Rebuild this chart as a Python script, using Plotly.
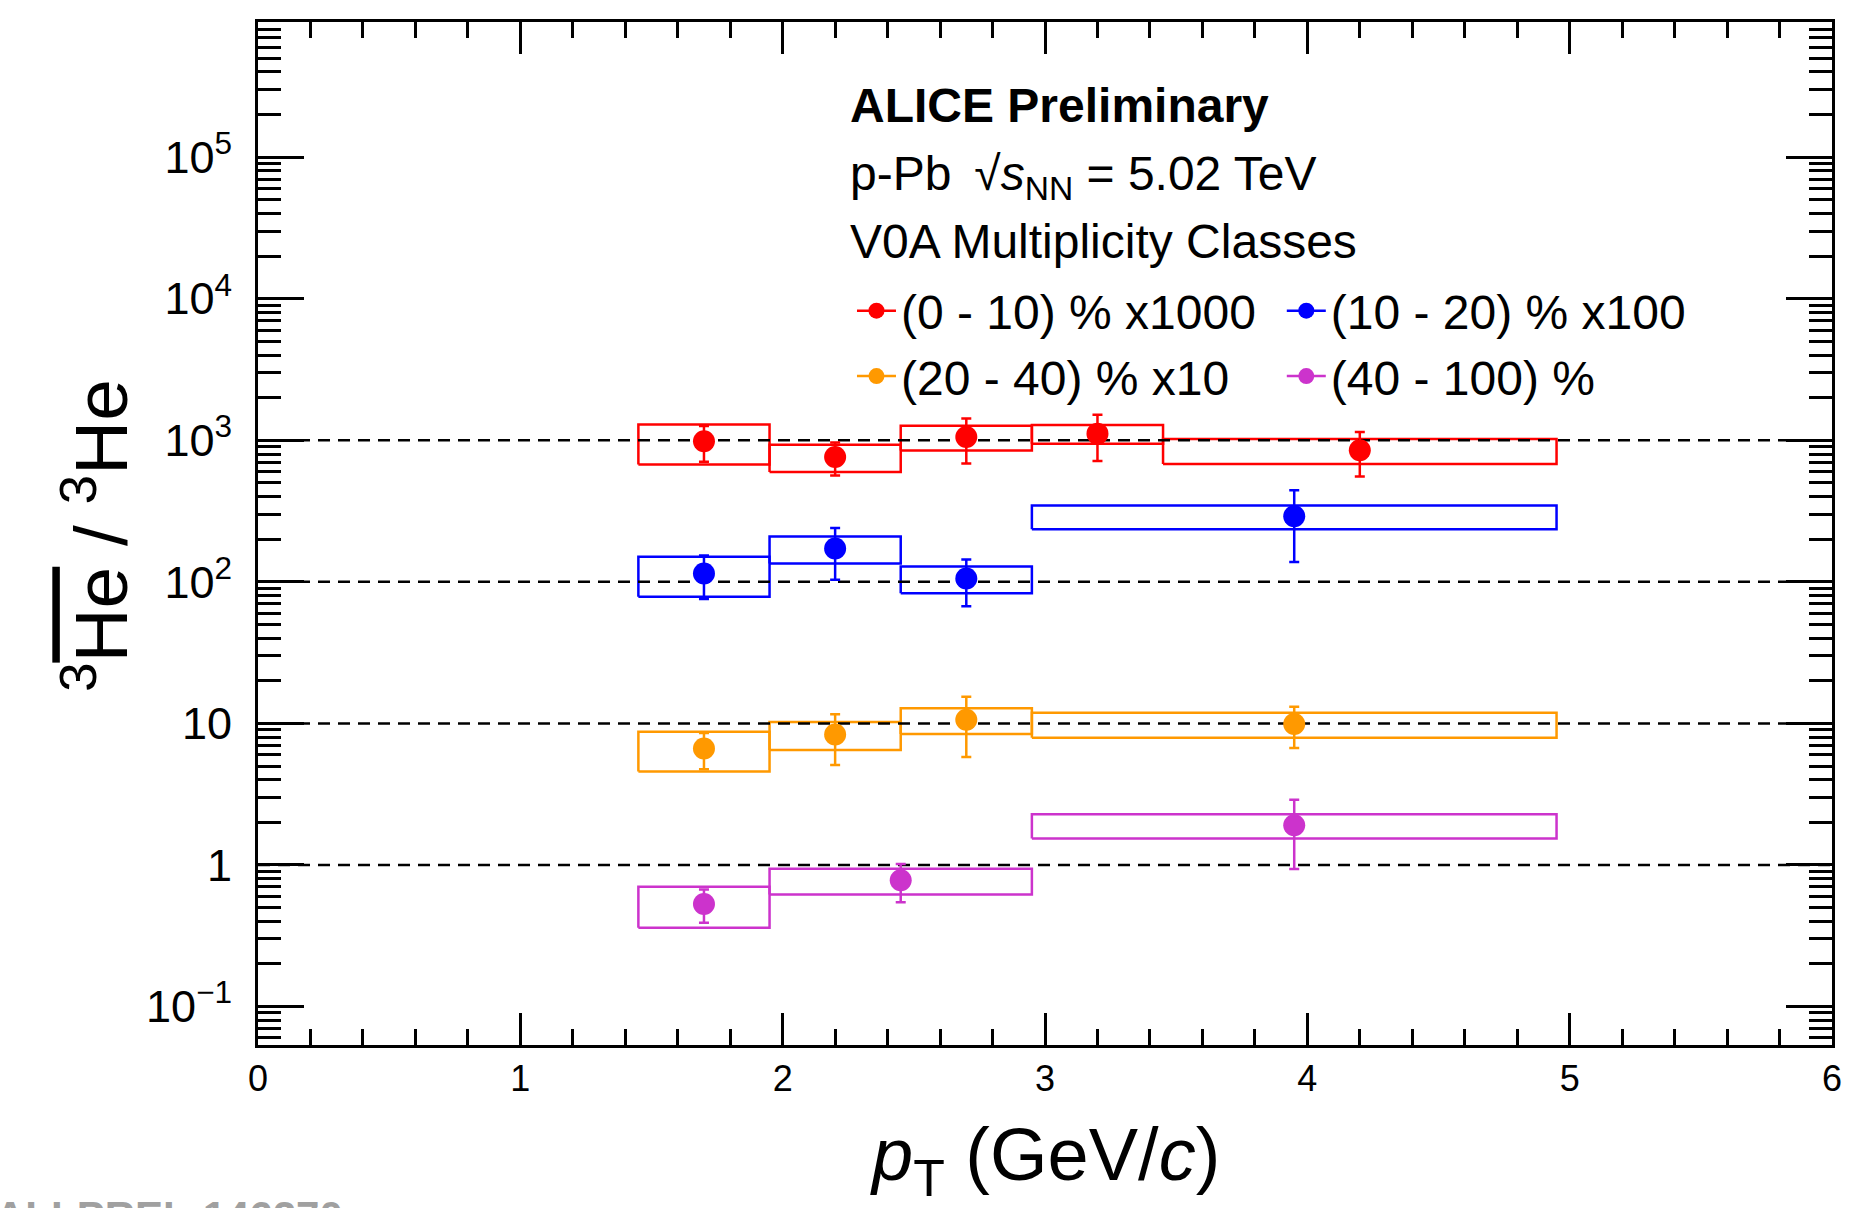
import plotly.graph_objects as go

# ---- data: anti-3He / 3He ratio vs pT in V0A multiplicity classes (p-Pb 5.02 TeV)
classes = ["(0 - 10) % x1000", "(10 - 20) % x100", "(20 - 40) % x10", "(40 - 100) %"]
scale_factors = [1000, 100, 10, 1]
colors = ["#ff0000", "#0000ff", "#ff9900", "#cc33cc"]
# legend column used by each class (two columns, two rows)
legend_slots = ["legend", "legend2", "legend", "legend2"]

pt_0_10 = [1.7, 2.2, 2.7, 3.2, 4.2]
hw_0_10 = [0.25, 0.25, 0.25, 0.25, 0.75]
ratio_0_10 = [0.984, 0.763, 1.056, 1.114, 0.850]
stat_0_10 = [0.28, 0.20, 0.37, 0.40, 0.295]
syst_0_10 = [0.31, 0.167, 0.21, 0.17, 0.17]

pt_10_20 = [1.7, 2.2, 2.7, 3.95]
hw_10_20 = [0.25, 0.25, 0.25, 1.0]
ratio_10_20 = [1.146, 1.72, 1.056, 2.91]
stat_10_20 = [0.39, 0.685, 0.385, 1.53]
syst_10_20 = [0.36, 0.375, 0.225, 0.555]

pt_20_40 = [1.7, 2.2, 2.7, 3.95]
hw_20_40 = [0.25, 0.25, 0.25, 1.0]
ratio_20_40 = [0.665, 0.835, 1.06, 0.99]
stat_20_40 = [0.19, 0.326, 0.48, 0.32]
syst_20_40 = [0.208, 0.187, 0.22, 0.197]

pt_40_100 = [1.7, 2.45, 3.95]
hw_40_100 = [0.25, 0.5, 1.0]
ratio_40_100 = [0.53, 0.78, 1.91]
stat_40_100 = [0.14, 0.235, 0.975]
syst_40_100 = [0.17, 0.161, 0.37]

# horizontal dashed reference lines (ratio = 1 for each scaled class)
ref_levels = [1, 10, 100, 1000]
x_range = [0, 6]

series = [
    (pt_0_10, hw_0_10, ratio_0_10, stat_0_10, syst_0_10),
    (pt_10_20, hw_10_20, ratio_10_20, stat_10_20, syst_10_20),
    (pt_20_40, hw_20_40, ratio_20_40, stat_20_40, syst_20_40),
    (pt_40_100, hw_40_100, ratio_40_100, stat_40_100, syst_40_100),
]

FONT = "Liberation Sans, Arial, Helvetica, sans-serif"
W, H = 1854, 1208
ML, MR, MT, MB = 258, 14, 22, 163
PW, PH = W - ML - MR, H - MT - MB


def px_x(p):
    return (p - ML) / PW


def px_y(p):
    return (H - MB - p) / PH


fig = go.Figure()

# systematic uncertainty boxes (open rectangles)
for (pt, hw, r, st, sy), sf, col in zip(series, scale_factors, colors):
    bx, by = [], []
    for x, w, v, s in zip(pt, hw, r, sy):
        lo, hi = (v - s) * sf, (v + s) * sf
        bx += [x - w, x + w, x + w, x - w, x - w, None]
        by += [lo, lo, hi, hi, lo, None]
    fig.add_trace(go.Scatter(x=bx, y=by, mode="lines", showlegend=False,
                             line=dict(color=col, width=2.5), hoverinfo="skip"))

# dashed reference lines
lx, ly = [], []
for lvl in ref_levels:
    lx += [x_range[0], x_range[1], None]
    ly += [lvl, lvl, None]
fig.add_trace(go.Scatter(x=lx, y=ly, mode="lines", showlegend=False,
                         line=dict(color="black", width=2.5, dash="12px,8px"),
                         hoverinfo="skip"))

# data points with statistical errors
for (pt, hw, r, st, sy), sf, col in zip(series, scale_factors, colors):
    fig.add_trace(go.Scatter(
        x=pt, y=[v * sf for v in r], mode="markers", showlegend=False,
        marker=dict(color=col, size=22, line=dict(width=0)),
        error_y=dict(type="data", array=[s * sf for s in st], color=col,
                     thickness=2.5, width=5),
    ))

# legend entries (marker + line)
for name, col, slot in zip(classes, colors, legend_slots):
    fig.add_trace(go.Scatter(x=[None], y=[None], mode="lines+markers", name=name,
                             legend=slot,
                             marker=dict(color=col, size=16),
                             line=dict(color=col, width=2.5)))

axis_common = dict(
    showline=True, linecolor="black", linewidth=2.5, mirror="allticks",
    ticks="inside", tickcolor="black", tickwidth=2.5,
    showgrid=False, zeroline=False,
    tickfont=dict(family=FONT, size=36, color="black"),
)

fig.update_xaxes(range=x_range, dtick=1, tick0=0, ticklen=32,
                 minor=dict(dtick=0.2, ticks="inside", ticklen=16, tickwidth=2.5,
                            tickcolor="black", showgrid=False),
                 ticklabelstandoff=0, **axis_common)
fig.update_yaxes(type="log", range=[-1.272, 5.955], dtick=1, tick0=0, ticklen=46,
                 exponentformat="power",
                 minor=dict(dtick="D1", ticks="inside", ticklen=23, tickwidth=2.5,
                            tickcolor="black", showgrid=False),
                 ticklabelstandoff=16, **axis_common)

annotations = [
    dict(text="<b>ALICE Preliminary</b>", x=px_x(851), y=px_y(105), size=48),
    dict(text="p-Pb \u2009\u221a<i>s</i><sub>NN</sub> = 5.02 TeV", x=px_x(851), y=px_y(177), size=48),
    dict(text="V0A Multiplicity Classes", x=px_x(851), y=px_y(241), size=48),
]
ann_list = []
for a in annotations:
    ann_list.append(dict(text=a["text"], x=a["x"], y=a["y"], xref="paper", yref="paper",
                         xanchor="left", yanchor="middle", showarrow=False,
                         font=dict(family=FONT, size=a["size"], color="black")))

# axis titles
ann_list.append(dict(text="<i>p</i><sub>T</sub> (GeV/<i>c</i>)",
                     x=px_x(1049), y=px_y(1160), xref="paper", yref="paper",
                     xanchor="center", yanchor="middle", showarrow=False,
                     font=dict(family=FONT, size=74, color="black")))
ann_list.append(dict(text="<sup>3</sup><span style=\"text-decoration:overline\">He</span> / <sup>3</sup>He",
                     x=px_x(95), y=px_y(535), xref="paper", yref="paper",
                     xanchor="center", yanchor="middle", textangle=-90, showarrow=False,
                     font=dict(family=FONT, size=75, color="black")))
# figure identifier at the bottom edge
ann_list.append(dict(text="<b>ALI-PREL-146270</b>", x=px_x(-8), y=px_y(1191),
                     xref="paper", yref="paper", xanchor="left", yanchor="top",
                     showarrow=False, font=dict(family=FONT, size=42, color="#a0a0a0")))

legend_common = dict(orientation="v", xanchor="left", yanchor="top", itemwidth=39,
                     font=dict(family=FONT, size=48, color="black"),
                     bgcolor="rgba(0,0,0,0)", borderwidth=0, traceorder="normal",
                     tracegroupgap=0)

fig.update_layout(
    width=W, height=H,
    margin=dict(l=ML, r=MR, t=MT, b=MB, pad=0),
    paper_bgcolor="white", plot_bgcolor="white",
    font=dict(family=FONT, color="black"),
    annotations=ann_list,
    legend=dict(x=px_x(855), y=px_y(273), **legend_common),
    legend2=dict(x=px_x(1287), y=px_y(273), **legend_common),
)

fig.write_html("out.html")
